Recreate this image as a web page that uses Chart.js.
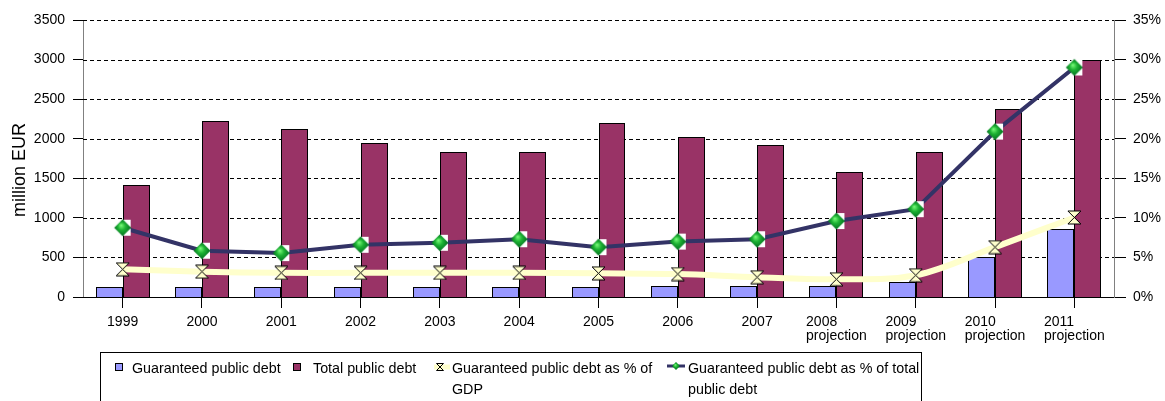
<!DOCTYPE html>
<html>
<head>
<meta charset="utf-8">
<script src="https://cdn.jsdelivr.net/npm/chart.js@4/dist/chart.umd.min.js"></script>
<style>
    html, body { margin: 0; padding: 0; background: #fff; }
    #wrap { position: relative; width: 1165px; height: 401px; }
</style>
</head>
<body>
<div id="wrap"><canvas id="debt_graph"></canvas></div>
<script>
const years = ['1999', '2000', '2001', '2002', '2003', '2004', '2005', '2006', '2007',
    ['2008', 'projection'], ['2009', 'projection'], ['2010', 'projection'], ['2011', 'projection']];
const guaranteedDebt = [125, 125, 125, 125, 125, 125, 125, 145, 145, 145, 195, 500, 855];
const totalDebt = [1415, 2220, 2120, 1945, 1837, 1837, 2196, 2020, 1918, 1585, 1838, 2373, 2998];
const guaranteedPctGdp = [3.5, 3.2, 3.05, 3.05, 3.05, 3.05, 3.0, 2.9, 2.5, 2.25, 2.75, 6.3, 10.05];
const guaranteedPctTotal = [8.75, 5.85, 5.55, 6.6, 6.85, 7.3, 6.3, 7.0, 7.3, 9.6, 11.1, 20.9, 29.0];
const leftTicks = { min: 0, max: 3500, step: 500 };
const rightTicks = { min: 0, max: 35, step: 5 };
const legendItems = [
    { text: ['Guaranteed public debt'], x: 132 },
    { text: ['Total public debt'], x: 313 },
    { text: ['Guaranteed public debt as % of', 'GDP'], x: 452 },
    { text: ['Guaranteed public debt as % of total', 'public debt'], x: 688 }
];

const FONT = "'Liberation Sans', Arial, sans-serif";

function drawHourglass(ctx, cx, cy, h) {
    ctx.beginPath();
    ctx.moveTo(cx - h, cy - h);
    ctx.lineTo(cx + h, cy - h);
    ctx.lineTo(cx - h, cy + h);
    ctx.lineTo(cx + h, cy + h);
    ctx.closePath();
    ctx.fillStyle = '#FFFFCC';
    ctx.fill();
    ctx.lineWidth = 1;
    ctx.strokeStyle = '#000';
    ctx.stroke();
}

function drawDiamond(ctx, cx, cy, h, withBack) {
    if (withBack) {
        ctx.fillStyle = '#fff';
        ctx.fillRect(cx - 3, cy - 8, 11, 16);
    }
    const g = ctx.createRadialGradient(cx - h * 0.2, cy - h * 0.3, 0, cx, cy, h);
    g.addColorStop(0, '#7CFF7C');
    g.addColorStop(0.45, '#1DB233');
    g.addColorStop(1, '#006B1E');
    ctx.beginPath();
    ctx.moveTo(cx, cy - h);
    ctx.lineTo(cx + h, cy);
    ctx.lineTo(cx, cy + h);
    ctx.lineTo(cx - h, cy);
    ctx.closePath();
    ctx.fillStyle = g;
    ctx.fill();
}

function makeMarker(w, h, fn) {
    const c = document.createElement('canvas');
    c.width = w;
    c.height = h;
    fn(c.getContext('2d'));
    return c;
}

const hourglassMarker = makeMarker(15, 15, function (ctx) {
    drawHourglass(ctx, 7.5, 7.5, 6.5);
});
const diamondMarker = makeMarker(22, 20, function (ctx) {
    drawDiamond(ctx, 11, 10, 8.5, true);
});

// snap bar edges to whole pixels so the 1px outlines stay sharp
const crispBars = {
    id: 'crispBars',
    afterDatasetsUpdate(chart) {
        chart.data.datasets.forEach(function (ds, i) {
            const meta = chart.getDatasetMeta(i);
            if (meta.type !== 'bar') return;
            meta.data.forEach(function (bar) {
                const left = Math.round(bar.x - bar.width / 2);
                const right = Math.round(bar.x + bar.width / 2);
                bar.x = (left + right) / 2;
                bar.width = right - left;
                bar.y = Math.round(bar.y);
                bar.base = Math.round(bar.base);
            });
        });
    }
};

// dashed value lines, drawn crisp on whole pixels under the bars
const dashedGrid = {
    id: 'dashedGrid',
    beforeDatasetsDraw(chart) {
        const ctx = chart.ctx;
        const ys = chart.scales.y;
        const area = chart.chartArea;
        ctx.save();
        ctx.strokeStyle = '#000';
        ctx.lineWidth = 1;
        ctx.setLineDash([4, 3]);
        for (let v = leftTicks.min; v <= leftTicks.max; v += leftTicks.step) {
            const y = Math.round(ys.getPixelForValue(v)) + 0.5;
            ctx.beginPath();
            ctx.moveTo(area.left, y);
            ctx.lineTo(area.right, y);
            ctx.stroke();
        }
        ctx.restore();
    }
};

// axis title, two-line category labels and the boxed legend
const extras = {
    id: 'extras',
    afterDraw(chart) {
        const ctx = chart.ctx;
        const xs = chart.scales.x;
        ctx.save();
        ctx.fillStyle = '#000';
        ctx.textBaseline = 'middle';

        ctx.font = '14px ' + FONT;
        years.forEach(function (label, i) {
            const x = xs.getPixelForValue(i);
            const lines = Array.isArray(label) ? label : [label];
            if (lines.length === 1) {
                ctx.textAlign = 'center';
                ctx.fillText(lines[0], x, 322);
            } else {
                const w = Math.max.apply(null, lines.map(function (l) { return ctx.measureText(l).width; }));
                ctx.textAlign = 'left';
                lines.forEach(function (l, j) {
                    ctx.fillText(l, x - w / 2, 322 + j * 14);
                });
            }
        });

        ctx.save();
        ctx.translate(20, 170);
        ctx.rotate(-Math.PI / 2);
        ctx.textAlign = 'center';
        ctx.font = '18px ' + FONT;
        ctx.fillText('million EUR', 0, 0);
        ctx.restore();

        // legend box
        ctx.lineWidth = 1;
        ctx.strokeStyle = '#000';
        ctx.strokeRect(100.5, 352.5, 821, 60);

        ctx.fillStyle = '#9999FF';
        ctx.fillRect(115.5, 363.5, 7, 7);
        ctx.strokeRect(115.5, 363.5, 7, 7);
        ctx.fillStyle = '#993366';
        ctx.fillRect(293.5, 363.5, 7, 7);
        ctx.strokeRect(293.5, 363.5, 7, 7);

        ctx.lineWidth = 5;
        ctx.strokeStyle = '#FFFFCC';
        ctx.beginPath();
        ctx.moveTo(434, 367);
        ctx.lineTo(450, 367);
        ctx.stroke();
        drawHourglass(ctx, 440, 367, 3.5);

        ctx.lineWidth = 3;
        ctx.strokeStyle = '#333366';
        ctx.beginPath();
        ctx.moveTo(667, 366);
        ctx.lineTo(685, 366);
        ctx.stroke();
        drawDiamond(ctx, 676, 366, 4, false);

        ctx.fillStyle = '#000';
        ctx.textAlign = 'left';
        ctx.font = '14.3px ' + FONT;
        legendItems.forEach(function (item) {
            item.text.forEach(function (t, j) {
                ctx.fillText(t, item.x, 369 + j * 21);
            });
        });
        ctx.restore();
    }
};

const debtGraph = document.getElementById('debt_graph');
new Chart(debtGraph, {
    type: 'bar',
    data: {
        labels: years,
        datasets: [
            {
                type: 'line',
                label: 'Guaranteed public debt as % of total public debt',
                data: guaranteedPctTotal,
                yAxisID: 'y1',
                borderColor: '#333366',
                borderWidth: 4,
                tension: 0,
                pointStyle: diamondMarker,
                pointRadius: 8,
                order: 0
            },
            {
                type: 'line',
                label: 'Guaranteed public debt as % of GDP',
                data: guaranteedPctGdp,
                yAxisID: 'y1',
                borderColor: '#FFFFCC',
                borderWidth: 6,
                tension: 0.35,
                pointStyle: hourglassMarker,
                pointRadius: 7,
                order: 1
            },
            {
                label: 'Guaranteed public debt',
                data: guaranteedDebt,
                yAxisID: 'y',
                backgroundColor: '#9999FF',
                borderColor: '#000000',
                borderWidth: 1,
                inflateAmount: 0,
                order: 2
            },
            {
                label: 'Total public debt',
                data: totalDebt,
                yAxisID: 'y',
                backgroundColor: '#993366',
                borderColor: '#000000',
                borderWidth: 1,
                inflateAmount: 0,
                order: 2
            }
        ]
    },
    options: {
        responsive: true,
        maintainAspectRatio: false,
        animation: false,
        datasets: {
            bar: {
                categoryPercentage: 0.68,
                barPercentage: 1
            }
        },
        layout: {
            padding: { top: 20, left: 0, right: 0, bottom: 0 }
        },
        plugins: {
            legend: { display: false },
            tooltip: { enabled: false }
        },
        scales: {
            x: {
                grid: {
                    offset: false,
                    drawOnChartArea: false,
                    tickLength: 11,
                    color: '#000'
                },
                border: { color: '#000' },
                ticks: {
                    color: 'rgba(0,0,0,0)',
                    font: { size: 14, family: FONT }
                },
                afterFit: function (scale) {
                    scale.height = 104;
                }
            },
            y: {
                position: 'left',
                min: leftTicks.min,
                max: leftTicks.max,
                ticks: {
                    stepSize: leftTicks.step,
                    color: '#000',
                    padding: 8,
                    font: { size: 14, family: FONT },
                    callback: function (v) {
                        return String(v);
                    }
                },
                grid: {
                    drawOnChartArea: false,
                    color: '#000',
                    tickColor: '#000',
                    tickLength: 10
                },
                border: { color: '#808080' },
                afterFit: function (scale) {
                    scale.width = 83;
                }
            },
            y1: {
                position: 'right',
                min: rightTicks.min,
                max: rightTicks.max,
                ticks: {
                    stepSize: rightTicks.step,
                    color: '#000',
                    padding: 7,
                    font: { size: 14, family: FONT },
                    callback: function (v) {
                        return v + '%';
                    }
                },
                grid: {
                    drawOnChartArea: false,
                    tickColor: '#000',
                    tickLength: 12
                },
                border: { color: '#808080' },
                afterFit: function (scale) {
                    scale.width = 51;
                }
            }
        }
    },
    plugins: [crispBars, dashedGrid, extras]
});
</script>
</body>
</html>
